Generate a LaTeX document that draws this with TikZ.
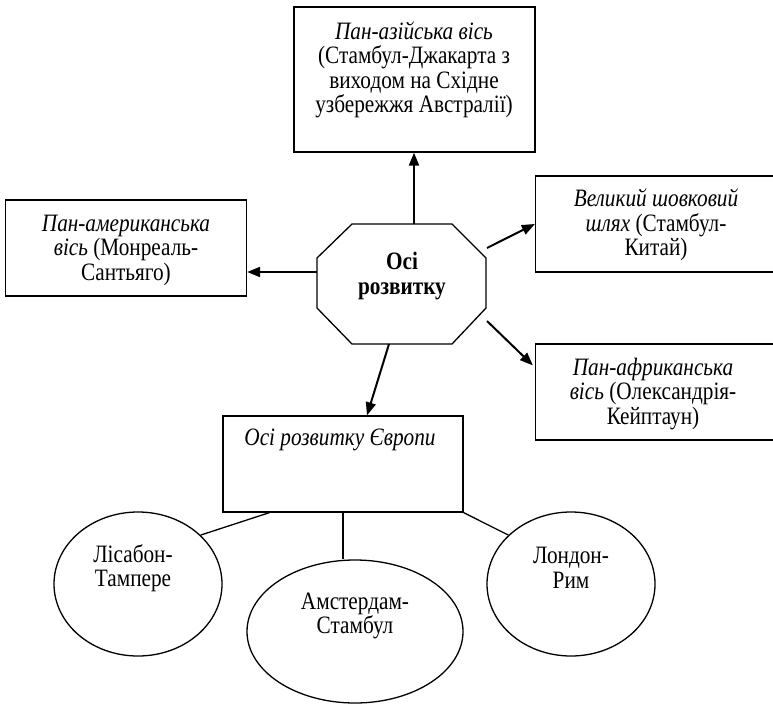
\documentclass[tikz,border=0pt]{standalone}
\usepackage{fontspec}
\setmainfont{Liberation Serif}[FakeStretch=0.85]
\usetikzlibrary{arrows.meta,shapes.geometric,calc}
\begin{document}
\begin{tikzpicture}[x=1pt,y=-1pt,
  box/.style={draw,line width=1.3pt,inner sep=0,minimum width=241,minimum height=96},
  txt/.style={align=center,inner sep=0,font=\fontsize{25}{24.5}\selectfont},
  arr/.style={line width=2pt,-{Triangle[length=13pt,width=10pt]}},
  con/.style={line width=1.3pt},
  oval/.style={draw,ellipse,line width=1.3pt,inner sep=0}]
\useasboundingbox (0,0) rectangle (773,704);
% boxes
\node[box,minimum height=145] (asia) at (414.5,79.5) {};
\node[box] (amer) at (126,248) {};
\node[box] (silk) at (656,224) {};
\node[box] (afr) at (656,392) {};
\node[box,minimum width=240] (eur) at (343,464) {};
% texts
\node[txt] (tasia) at (414,70) {\textit{Пан-азійська вісь}\\(Стамбул-Джакарта з\\виходом на Східне\\узбережжя Австралії)};
\node[txt] (tamer) at (126,250) {\textit{Пан-американська}\\\textit{вісь} (Монреаль-\\Сантьяго)};
\node[txt] (tsilk) at (656,225) {\textit{Великий шовковий}\\\textit{шлях} (Стамбул-\\Китай)};
\node[txt] (tafr) at (653,394) {\textit{Пан-африканська}\\\textit{вісь} (Олександрія-\\Кейптаун)};
\node[txt] (teur) at (340,440) {\textit{Осі розвитку Європи}};
% octagon
\draw[line width=1.3pt] (352,224) -- (452,224) -- (486,258) -- (486,308) -- (452,344) -- (352,344) -- (317,308) -- (317,258) -- cycle;
\node[txt,font=\fontsize{25}{25}\selectfont\bfseries] (oct) at (402,276) {Осі\\розвитку};
\coordinate (o1) at (414,224);
\coordinate (o2) at (317,272);
\coordinate (o3) at (487,248);
\coordinate (o4) at (487,321);
\coordinate (o5) at (389,344);
% arrows
\draw[arr] (o1) -- (o1 |- asia.south);
\draw[arr] (o2) -- (o2 -| amer.east);
\draw[arr] (o3) -- (silk.west);
\draw[arr] (o4) -- ($(afr.north west)+(-2,22)$);
\draw[arr] (o5) -- ($(eur.north)+(24,0)$);
% ellipses
\node[oval,minimum width=168,minimum height=144] (e1) at (138,584) {};
\node[oval,minimum width=216,minimum height=143] (e2) at (355,631.5) {};
\node[oval,minimum width=168,minimum height=144] (e3) at (571,584) {};
\node[txt] (te1) at (133,568) {Лісабон-\\Тампере};
\node[txt] (te2) at (355,616) {Амстердам-\\Стамбул};
\node[txt] (te3) at (571,568) {Лондон-\\Рим};
% connectors
\draw[con] ($(eur.south west)+(47,0)$) -- (e1.38);
\draw[con] (eur.south) -- (eur.south |- e2.north);
\draw[con] (eur.south east) -- (e3.142);
\end{tikzpicture}
\end{document}
